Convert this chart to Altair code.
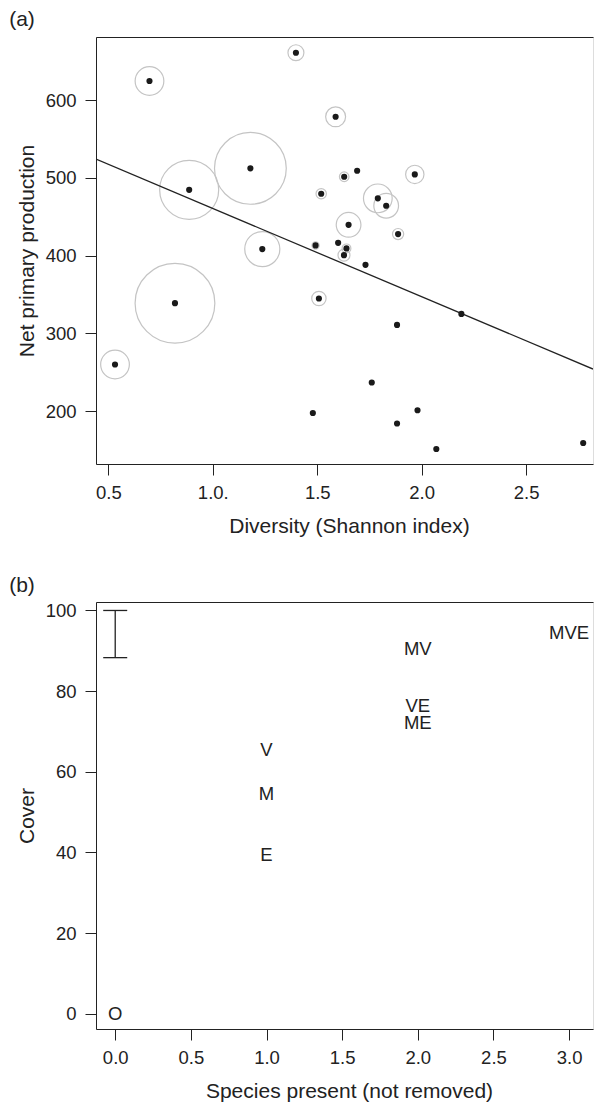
import altair as alt
import pandas as pd

# ---------------- Panel (a) data ----------------
diversity = [0.532, 0.697, 0.819, 0.887, 1.180, 1.237, 1.398, 1.479, 1.492, 1.508,
             1.519, 1.588, 1.600, 1.629, 1.628, 1.640, 1.650, 1.691, 1.731, 1.761,
             1.790, 1.830, 1.882, 1.882, 1.887, 1.967, 1.980, 2.070, 2.190, 2.773]
npp = [260.1, 624.4, 338.9, 484.6, 512.2, 408.4, 660.8, 197.8, 413.1, 344.9,
       479.5, 578.5, 416.5, 501.4, 400.6, 409.3, 439.6, 509.1, 388.2, 236.9,
       473.6, 464.1, 311.0, 184.2, 427.7, 504.4, 201.3, 151.5, 325.1, 159.2]
# relative size of the grey circles (third variable, arbitrary units)
circle_rel = [0.36, 0.36, 1.00, 0.74, 0.90, 0.44, 0.20, 0.00, 0.09, 0.18,
              0.13, 0.25, 0.00, 0.12, 0.15, 0.11, 0.31, 0.00, 0.00, 0.00,
              0.36, 0.31, 0.00, 0.00, 0.14, 0.23, 0.00, 0.00, 0.00, 0.00]
fit_intercept = 574.0
fit_slope = -113.4
x_domain_a = [0.441, 2.820]
y_domain_a = [132.2, 681.0]
x_ticks_a = [0.5, 1.0, 1.5, 2.0, 2.5]
y_ticks_a = [200, 300, 400, 500, 600]

# ---------------- Panel (b) data ----------------
combo_labels = ["O", "E", "M", "V", "ME", "VE", "MV", "MVE"]
species_present = [0, 1, 1, 1, 2, 2, 2, 3]
cover = [0.0, 39.4, 54.4, 65.5, 72.0, 76.4, 90.4, 94.5]
err_x = [0.0]
err_low = [88.3]
err_high = [100.0]
x_domain_b = [-0.127, 3.158]
y_domain_b = [-3.8, 102.1]
x_ticks_b = [0.0, 0.5, 1.0, 1.5, 2.0, 2.5, 3.0]
y_ticks_b = [0, 20, 40, 60, 80, 100]

FONT = "Liberation Sans"
FS = 18.5     # tick labels and in-plot text
TFS = 21      # axis titles and panel letters
INK = "#222222"
W, H = 497, 427

df_a = pd.DataFrame({"div": diversity, "npp": npp, "rel": circle_rel})
df_line = pd.DataFrame({"div": x_domain_a})
df_line["npp"] = fit_intercept + fit_slope * df_line["div"]

def left_axis(values, title):
    return alt.Axis(values=values, title=title, grid=False, domainColor=INK,
                    tickColor=INK, tickSize=11, labelPadding=9, titlePadding=8,
                    labelFont=FONT, labelFontSize=FS, labelColor=INK,
                    titleFont=FONT, titleFontSize=TFS, titleFontWeight="normal",
                    titleColor=INK)

def bottom_axis(values, title, label_expr):
    return alt.Axis(values=values, title=title, grid=False, domainColor=INK,
                    tickColor=INK, tickSize=11, labelPadding=8, titlePadding=14,
                    labelExpr=label_expr, labelFont=FONT, labelFontSize=FS,
                    labelColor=INK, labelFlush=False, titleFont=FONT,
                    titleFontSize=TFS, titleFontWeight="normal", titleColor=INK,
                    titleX=253, titleAlign="center")

top_axis = alt.Axis(orient="top", labels=False, ticks=False, title=None,
                    grid=False, domainColor=INK)

xs_a = alt.Scale(domain=x_domain_a, nice=False, zero=False)
ys_a = alt.Scale(domain=y_domain_a, nice=False, zero=False)

base_a = alt.Chart(df_a)
rings = base_a.transform_filter("datum.rel > 0").mark_point(
    shape="circle", filled=False, color="#c4c4c4", strokeWidth=1.2, opacity=1
).encode(
    x=alt.X("div:Q", scale=xs_a,
            axis=bottom_axis(x_ticks_a, "Diversity (Shannon index)",
                             "datum.value == 1 ? '1.0.' : format(datum.value, '.1f')")),
    y=alt.Y("npp:Q", scale=ys_a, axis=left_axis(y_ticks_a, "Net primary production")),
    size=alt.Size("rel:Q", legend=None,
                  scale=alt.Scale(type="pow", exponent=2, domain=[0, 1], range=[0, 6362])),
)
dots = base_a.mark_circle(size=38, color="#1a1a1a", opacity=1).encode(
    x=alt.X("div:Q", scale=xs_a, axis=None),
    y=alt.Y("npp:Q", scale=ys_a),
)
fit = alt.Chart(df_line).mark_line(color=INK, strokeWidth=1.3, clip=True).encode(
    x=alt.X("div:Q", scale=xs_a, axis=top_axis),
    y=alt.Y("npp:Q", scale=ys_a),
)
panel_a = alt.layer(rings, fit, dots).resolve_axis(x="independent").properties(
    width=W, height=H,
    title=alt.TitleParams("(a)", anchor="start", frame="bounds", font=FONT,
                          fontSize=TFS, fontWeight="normal", color=INK, offset=7, dx=-7),
)

# ---------------- Panel (b) ----------------
df_b = pd.DataFrame({"sp": species_present, "cover": cover, "lab": combo_labels})
df_err = pd.DataFrame({"sp": err_x, "lo": err_low, "hi": err_high})
df_caps = pd.DataFrame({"sp": err_x * 2, "cover": err_low + err_high})

xs_b = alt.Scale(domain=x_domain_b, nice=False, zero=False)
ys_b = alt.Scale(domain=y_domain_b, nice=False, zero=False)

labels_b = alt.Chart(df_b).mark_text(font=FONT, fontSize=FS, color=INK,
                                     align="center", baseline="middle").encode(
    x=alt.X("sp:Q", scale=xs_b,
            axis=bottom_axis(x_ticks_b, "Species present (not removed)",
                             "format(datum.value, '.1f')")),
    y=alt.Y("cover:Q", scale=ys_b, axis=left_axis(y_ticks_b, "Cover")),
    text="lab:N",
)
err_rule = alt.Chart(df_err).mark_rule(color=INK, strokeWidth=1.3).encode(
    x=alt.X("sp:Q", scale=xs_b, axis=top_axis),
    y=alt.Y("lo:Q", scale=ys_b),
    y2="hi:Q",
)
err_caps = alt.Chart(df_caps).mark_tick(color=INK, orient="horizontal", size=24,
                                        thickness=1.3, opacity=1).encode(
    x=alt.X("sp:Q", scale=xs_b, axis=None),
    y=alt.Y("cover:Q", scale=ys_b),
)
panel_b = alt.layer(labels_b, err_rule, err_caps).resolve_axis(x="independent").properties(
    width=W, height=H,
    title=alt.TitleParams("(b)", anchor="start", frame="bounds", font=FONT,
                          fontSize=TFS, fontWeight="normal", color=INK, offset=5, dx=-7),
)

chart = alt.vconcat(panel_a, panel_b, spacing=37).properties(
    padding={"left": 0, "top": 0, "right": 0, "bottom": 0}
).configure_view(stroke=None).configure(background="white")

chart.save("out.html", embed_options={"renderer": "svg", "actions": False})
